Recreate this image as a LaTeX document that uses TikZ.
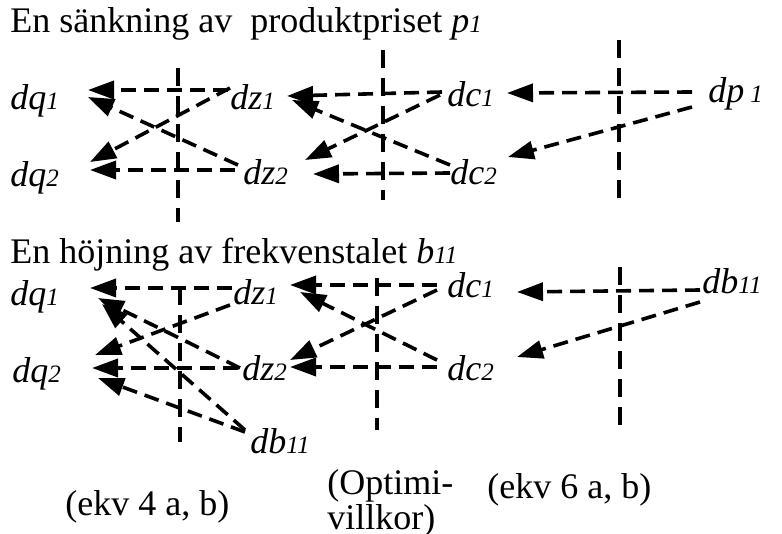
\documentclass[tikz,border=0pt]{standalone}
\usepackage{fontspec}
\setmainfont{Liberation Serif}
\usetikzlibrary{arrows.meta, calc}

\newcommand{\ix}[1]{{\fontsize{12.5}{12.5}\selectfont #1}}

\begin{document}
\begin{tikzpicture}[
    x=0.5pt, y=-0.5pt,
    var/.style={inner sep=0pt, anchor=base west, font=\fontsize{18}{20}\selectfont\itshape},
    hdr/.style={inner sep=0pt, anchor=base west, font=\fontsize{18}{22}\selectfont},
    ekv/.style={inner sep=0pt, anchor=base west, align=left, font=\fontsize{18}{16}\selectfont},
    arr/.style={-{Triangle[length=13pt, width=9pt]}, line width=1.8pt, dash pattern=on 7.5pt off 4pt},
    sep/.style={line width=1.8pt, dash pattern=on 9pt off 5pt}
]
\useasboundingbox (0,0) rectangle (782,534);

\node[hdr] (top) at (10,33) {En sänkning av\ \ produktpriset {\itshape p\ix{1}}};
\node[var] (dqa) at (10,110) {dq\ix{1}};
\node[var] (dqb) at (10,187) {dq\ix{2}};
\node[var] (dza) at (230,110) {dz\ix{1}};
\node[var] (dzb) at (243,185) {dz\ix{2}};
\node[var] (dca) at (447,107) {dc\ix{1}};
\node[var] (dcb) at (450,185) {dc\ix{2}};
\node[var] (dp) at (708,103) {dp\,\ix{1}};

\draw[sep] (178,68) -- (178,222);
\draw[sep] (383,50) -- (383,200);
\draw[sep] (619,40) -- (619,205);

\draw[arr] ($(dza.base west)+(-2,-20)$) -- ($(dqa.base west)+(78,-20)$);
\draw[arr] ($(dzb.base west)+(-5,-20)$) -- ($(dqa.base west)+(78,-13)$);
\draw[arr] ($(dza.base west)+(0,-22)$) -- ($(dqb.base west)+(80,-25)$);
\draw[arr] ($(dzb.base west)+(-8,-15)$) -- ($(dqb.base west)+(80,-17)$);
\draw[arr] ($(dca.base west)+(-5,-15)$) -- ($(dza.base west)+(57,-14)$);
\draw[arr] ($(dcb.base west)+(0,-20)$) -- ($(dza.base west)+(62,-10)$);
\draw[arr] ($(dca.base west)+(-7,-12)$) -- ($(dzb.base west)+(62,-25)$);
\draw[arr] ($(dcb.base west)+(0,-12)$) -- ($(dzb.base west)+(70,-11)$);
\draw[arr] ($(dp.base west)+(-16,-11)$) -- ($(dca.base west)+(60,-14)$);
\draw[arr] ($(dp.base west)+(-16,4)$) -- ($(dcb.base west)+(58,-28)$);

\node[hdr] (bot) at (10,264) {En höjning av frekvenstalet\ {\itshape b\ix{11}}};
\node[var] (dqc) at (10,306) {dq\ix{1}};
\node[var] (dqd) at (12,382) {dq\ix{2}};
\node[var] (dzc) at (233,305) {dz\ix{1}};
\node[var] (dzd) at (242,380) {dz\ix{2}};
\node[var] (dbl) at (250,453) {db\ix{11}};
\node[var] (dcc) at (447,298) {dc\ix{1}};
\node[var] (dcd) at (447,380) {dc\ix{2}};
\node[var] (dbr) at (702,293) {db\ix{11}};

\draw[sep] (180,287) -- (180,442);
\draw[sep] (377,278) -- (377,430);
\draw[sep] (620,267) -- (620,433);

\draw[arr] ($(dzc.base west)+(-1,-17)$) -- ($(dqc.base west)+(80,-18)$);
\draw[arr] ($(dzd.base west)+(-2,-12)$) -- ($(dqc.base west)+(88,-8)$);
\draw[arr] ($(dbl.base west)+(-5,-23)$) -- ($(dqc.base west)+(92,-2)$);
\draw[arr] ($(dzd.base west)+(-4,-12)$) -- ($(dqd.base west)+(80,-14)$);
\draw[arr] ($(dzc.base west)+(-3,0)$) -- ($(dqd.base west)+(83,-27)$);
\draw[arr] ($(dbl.base west)+(-5,-21)$) -- ($(dqd.base west)+(86,-4)$);
\draw[arr] ($(dcc.base west)+(-10,-13)$) -- ($(dzc.base west)+(57,-20)$);
\draw[arr] ($(dcd.base west)+(-10,-20)$) -- ($(dzc.base west)+(67,-13)$);
\draw[arr] ($(dcc.base west)+(-10,-8)$) -- ($(dzd.base west)+(48,-20)$);
\draw[arr] ($(dcd.base west)+(-10,-13)$) -- ($(dzd.base west)+(48,-13)$);
\draw[arr] ($(dbr.base west)+(-2,-3)$) -- ($(dcc.base west)+(70,-6)$);
\draw[arr] ($(dbr.base west)+(-2,9)$) -- ($(dcd.base west)+(70,-23)$);

\node[ekv] (eq4) at (65,515) {(ekv 4 a, b)};
\node[ekv] (opt) at (327,529) {(Optimi-\\villkor)};
\node[ekv] (eq6) at (487,498) {(ekv 6 a, b)};
\end{tikzpicture}
\end{document}
